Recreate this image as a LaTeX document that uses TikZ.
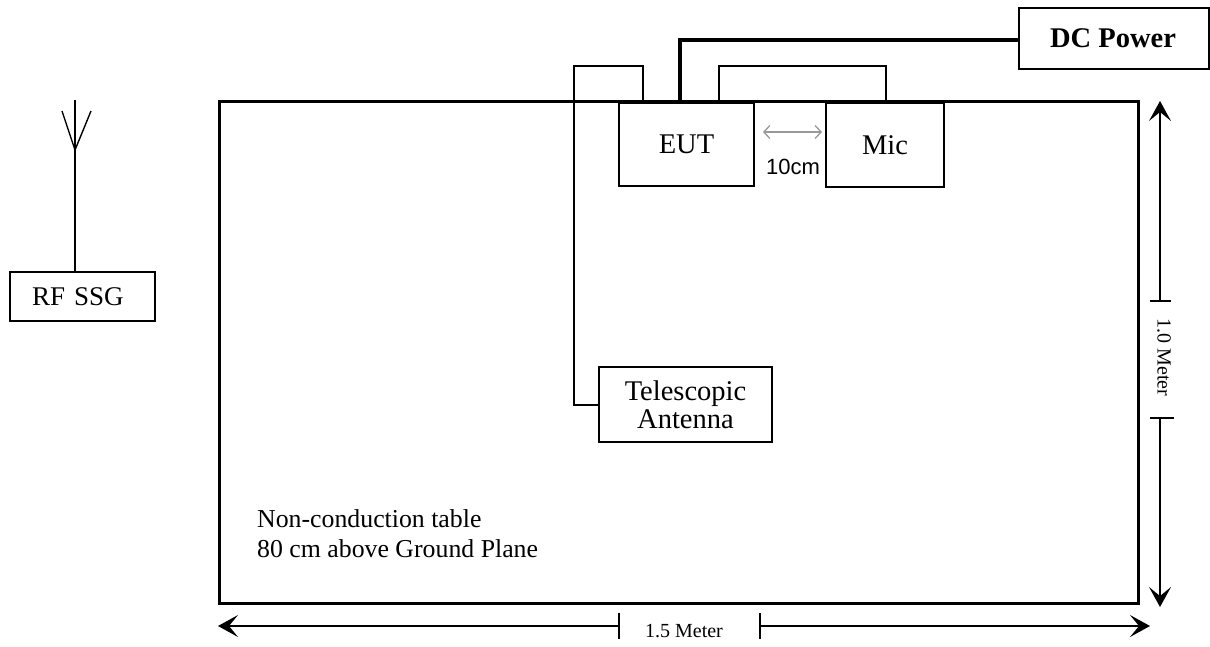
\documentclass[tikz,border=0pt]{standalone}
\usepackage{fontspec}
\setmainfont{Liberation Serif}
\setsansfont{Liberation Sans}
\usepackage{xcolor}
\usetikzlibrary{arrows.meta,positioning}
\definecolor{gapgray}{HTML}{999999}
\tikzset{
  tablebox/.style = {draw=black, line width=3pt, minimum width=919pt, minimum height=502pt, inner sep=0pt},
  box/.style      = {draw=black, line width=1.4pt, align=center, inner sep=0pt, font=\fontsize{28.5}{28}\selectfont},
  wire/.style     = {line width=1.4pt},
  thickwire/.style = {line width=3.6pt},
  dim/.style      = {{Stealth[length=20pt,width=22pt,inset=9pt]}-, line width=1.5pt},
  bar/.style      = {line width=1.5pt},
  ar/.style       = {{Straight Barb[length=6pt,width=13pt]}-{Straight Barb[length=6pt,width=13pt]}, line width=1.3pt, draw=gapgray},
  lbl/.style      = {font=\fontsize{20}{22}\selectfont, inner sep=0pt},
}
\begin{document}
\begin{tikzpicture}[x=1pt,y=-1pt]
  \useasboundingbox (0,0) rectangle (1210,646);
  \node[tablebox] (tbl) at (678.5,352) {};
  \node[box, minimum width=135pt, minimum height=83pt] (eut) at (686.5,144.5) {EUT};
  \node[box, minimum width=118pt, minimum height=84pt] (mic) at (885,145) {Mic};
  \node[box, minimum width=190pt, minimum height=61pt, line width=2pt, font=\fontsize{28.5}{29}\selectfont\bfseries] (dc) at (1114,38) {\hspace{-2pt}DC Power};
  \node[box, minimum width=145pt, minimum height=49pt, text width=145pt, align=left, font=\fontsize{27}{28}\selectfont] (ssg) at (82.5,296.5) {\hspace{22pt}RF SSG};
  \node[box, minimum width=173pt, minimum height=75pt] (ant) at (685.5,404.5) {Telescopic\\Antenna};
  \node[font=\fontsize{25.8}{30}\selectfont, align=left, anchor=north west, inner sep=0pt] (note) at (257,509) {Non-conduction table\\80 cm above Ground Plane};
  \node[font=\sffamily\fontsize{22}{24}\selectfont, inner sep=0pt] (gap) at (793,167) {10cm};
  \node[lbl] (wlen) at (684,631) {1.5 Meter};
  \node[lbl, rotate=-90] (hlen) at (1164,357.5) {1.0 Meter};

  % table feed throughs
  \coordinate (eutA) at (643,101);
  \coordinate (eutB) at (719,101);
  \coordinate (eutP) at (680,101);
  \coordinate (micA) at (886,101);
  \coordinate (antA) at (574,405);
  \draw[wire] (eutA) -- (643,66) -- (574,66) -- (antA) -- (ant.west |- antA);
  \draw[wire] (eutB) -- (719,66) -- (886,66) -- (micA);
  \draw[thickwire] (dc.west |- 680,40) -- (680,40) -- (eutP);

  % rf antenna
  \coordinate (mastTop) at (75,100);
  \coordinate (mastFork) at (75,150);
  \draw[wire] (mastTop) -- (ssg.north -| mastTop);
  \draw[wire] (62,111) -- (mastFork) -- (91,111);

  % gap between eut and mic
  \coordinate (gapL) at (763,132);
  \coordinate (gapR) at (822,132);
  \draw[ar] (gapL) -- (gapR);

  % width dimension
  \coordinate (wL) at (218,626);
  \coordinate (wR) at (1150,626);
  \coordinate (wB1) at (619,626);
  \coordinate (wB2) at (760,626);
  \draw[dim] (wL) -- (wB1);
  \draw[dim] (wR) -- (wB2);
  \draw[bar] (619,613) -- (619,639);
  \draw[bar] (760,613) -- (760,639);

  % height dimension
  \coordinate (hT) at (1160,101);
  \coordinate (hB) at (1160,607);
  \coordinate (hB1) at (1160,301);
  \coordinate (hB2) at (1160,418);
  \draw[dim] (hT) -- (hB1);
  \draw[dim] (hB) -- (hB2);
  \draw[bar] (1150,301) -- (1171,301);
  \draw[bar] (1150,418) -- (1174,418);
\end{tikzpicture}
\end{document}
